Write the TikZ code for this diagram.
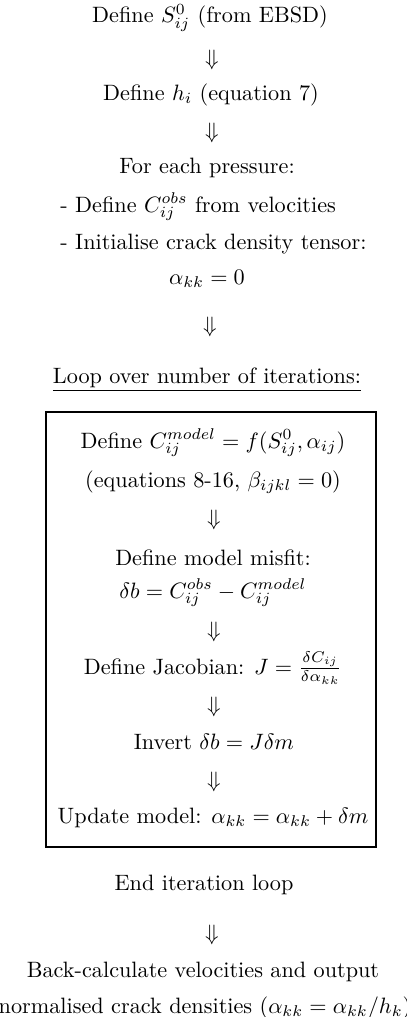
\documentclass[tikz,border=0pt]{standalone}
\begin{document}
\begin{tikzpicture}[x=0.45pt,y=-0.45pt,
  txt/.style={inner sep=0pt, align=center},
  arr/.style={inner sep=0pt},
  loopbox/.style={draw, line width=0.6pt}]
\useasboundingbox (0,0) rectangle (407,1017);
\node[txt] (s0) at (210,18) {Define $S^0_{ij}$ (from EBSD)};
\node[arr] (a1) at (212,60) {$\Downarrow$};
\node[txt] (hi) at (211,95) {Define $h_i$ (equation 7)};
\node[arr] (a2) at (212,133) {$\Downarrow$};
\node[txt] (pr) at (207,168) {For each pressure:};
\node[txt, anchor=west] (cobs) at (60,207) {- Define $C^{obs}_{ij}$ from velocities};
\node[txt, anchor=west] (init) at (60,244) {- Initialise crack density tensor:};
\node[txt] (a0) at (207,279) {$\alpha_{kk}=0$};
\node[arr] (a3) at (210,327) {$\Downarrow$};
\node[txt] (loop) at (207,380) {\underline{Loop over number of iterations:}};
\draw[loopbox] (46,412) rectangle (376,847);
\node[txt] (cm) at (213,443) {Define $C^{model}_{ij}=f(S^0_{ij},\alpha_{ij})$};
\node[txt] (eq) at (213,482) {(equations 8-16, $\beta_{ijkl}=0$)};
\node[arr] (a4) at (214,520) {$\Downarrow$};
\node[txt] (mm) at (213,558) {Define model misfit:};
\node[txt] (db) at (213,593) {$\delta b=C^{obs}_{ij}-C^{model}_{ij}$};
\node[arr] (a5) at (214,632) {$\Downarrow$};
\node[txt] (jac) at (213,668) {Define Jacobian: $J=\frac{\delta C_{ij}}{\delta\alpha_{kk}}$};
\node[arr] (a6) at (214,707) {$\Downarrow$};
\node[txt] (inv) at (214,742) {Invert $\delta b=J\delta m$};
\node[arr] (a7) at (214,782) {$\Downarrow$};
\node[txt] (upd) at (213,818) {Update model: $\alpha_{kk}=\alpha_{kk}+\delta m$};
\node[txt] (end) at (204,885) {End iteration loop};
\node[arr] (a8) at (212,935) {$\Downarrow$};
\node[txt] (back) at (203,972) {Back-calculate velocities and output};
\node[txt] (norm) at (205,1008) {normalised crack densities ($\alpha_{kk}=\alpha_{kk}/h_k$)};
\end{tikzpicture}
\end{document}
